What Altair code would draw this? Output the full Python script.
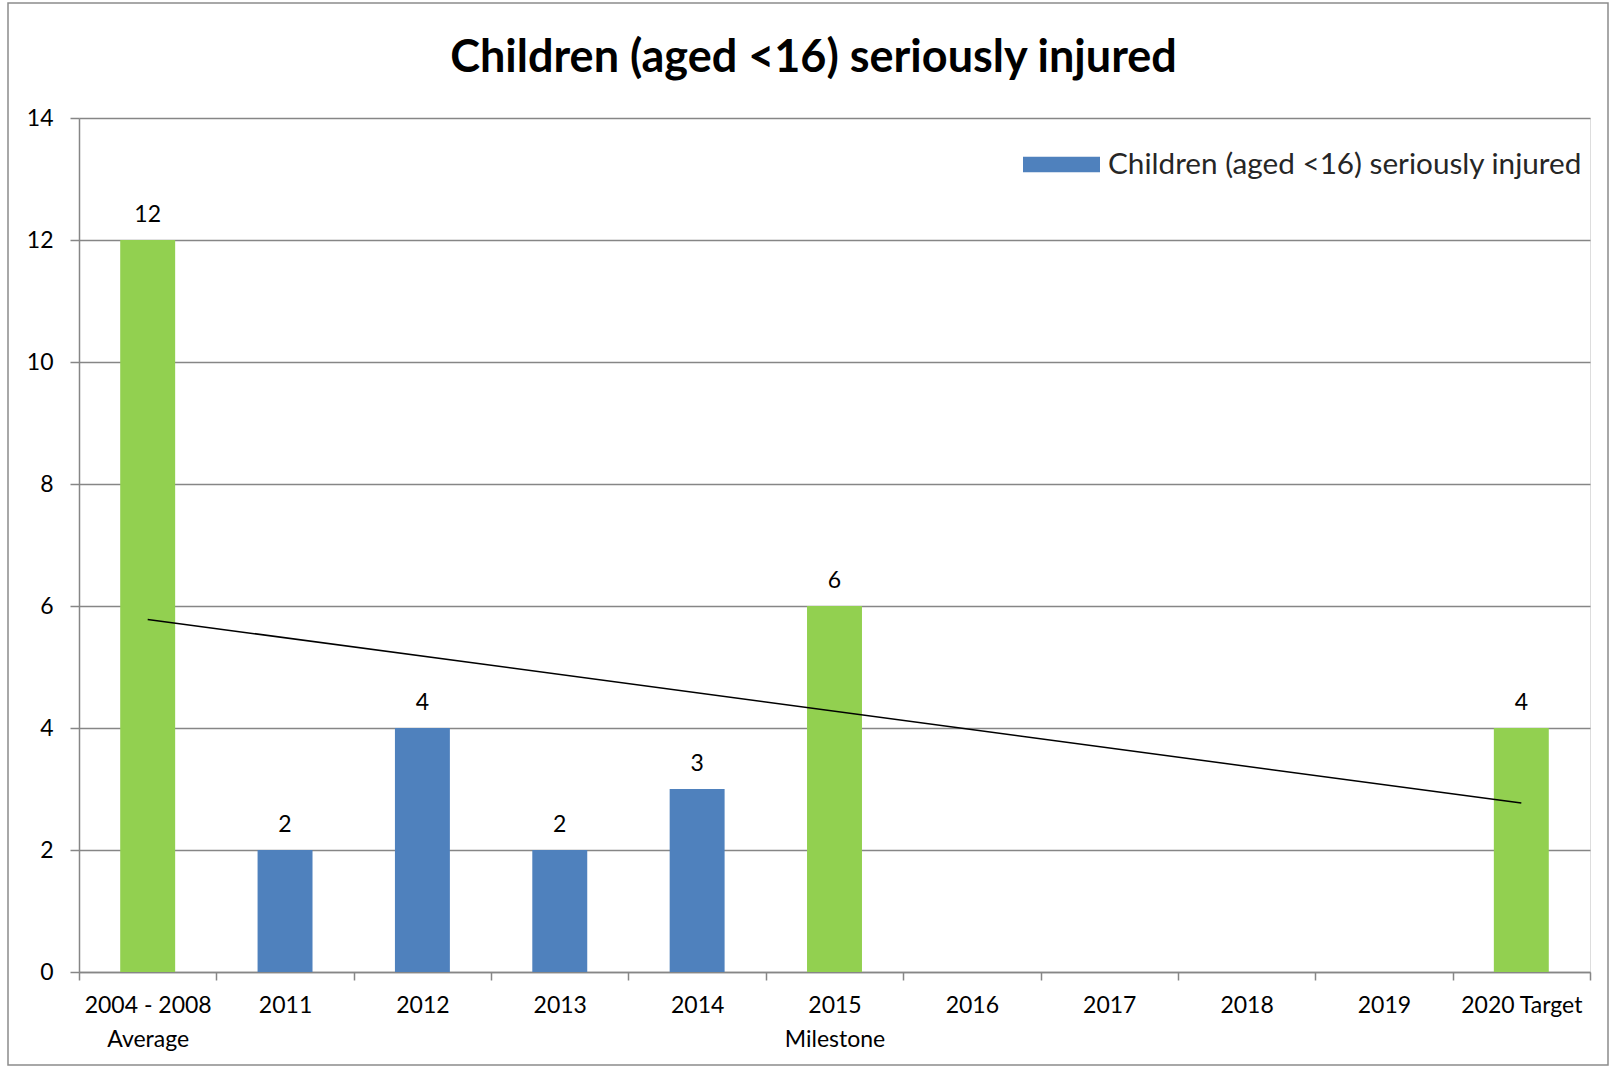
import altair as alt
import pandas as pd

# ---- data ----
categories = ["2004 - 2008|Average", "2011", "2012", "2013", "2014", "2015|Milestone",
              "2016", "2017", "2018", "2019", "2020 Target"]
values = [12, 2, 4, 2, 3, 6, None, None, None, None, 4]
kinds = ["Target", "Actual", "Actual", "Actual", "Actual", "Target",
         None, None, None, None, "Target"]
series_name = "Children (aged <16) seriously injured"
trend_values = [5.78, 2.77]   # linear trend at first and last category
y_ticks = [0, 2, 4, 6, 8, 10, 12, 14]

BLUE = "#4F81BD"
GREEN = "#92D050"
GRAY = "#868686"
FONT = "Lato"

rows = []
for c, v, k in zip(categories, values, kinds):
    if v is not None:
        rows.append({"cat": c, "val": v,
                     "series": series_name if k == "Actual" else "Target"})
bars_df = pd.DataFrame(rows)
trend_df = pd.DataFrame({"cat": [categories[0], categories[-1]], "val": trend_values})

W, H = 1511, 854

x_enc = alt.X("cat:N", sort=categories,
              scale=alt.Scale(domain=categories, paddingInner=0, paddingOuter=0),
              axis=alt.Axis(title=None, labelAngle=0, tickBand="extent",
                            labelExpr="split(datum.label, '|')",
                            labelFont=FONT, labelFontSize=23, labelColor="#000000",
                            labelLineHeight=34, labelPadding=14,
                            domainColor=GRAY, domainWidth=1.5,
                            tickColor=GRAY, tickWidth=1.5, tickSize=8, grid=False))
y_enc = alt.Y("val:Q", scale=alt.Scale(domain=[0, 14], nice=False),
              axis=alt.Axis(title=None, values=y_ticks, format="d",
                            labelFont=FONT, labelFontSize=23, labelColor="#000000",
                            labelPadding=17, tickSize=9, tickColor=GRAY, tickWidth=1.5,
                            domainColor=GRAY, domainWidth=1.5,
                            grid=True, gridColor=GRAY, gridWidth=1.5))

border = alt.Chart(pd.DataFrame({"a": [0]})).mark_rect(
    fill=None, stroke="#8C8C8C", strokeWidth=1.5
).encode(x=alt.value(-71), x2=alt.value(1529), y=alt.value(-115), y2=alt.value(947))

bars = alt.Chart(bars_df).mark_bar(width=alt.RelativeBandSize(0.4)).encode(
    x=x_enc, y=y_enc,
    color=alt.Color("series:N",
                    scale=alt.Scale(domain=[series_name, "Target"], range=[BLUE, GREEN]),
                    legend=alt.Legend(title=None, values=[series_name], orient="none",
                                      legendX=944, legendY=8,
                                      symbolType="M-1,-0.2H1V0.2H-1Z",
                                      symbolSize=5929, symbolStrokeWidth=0,
                                      symbolOpacity=1,
                                      labelFont=FONT, labelFontSize=29.7,
                                      labelColor="#262626", labelOffset=8,
                                      labelLimit=700))
)

labels = alt.Chart(bars_df).mark_text(
    font=FONT, fontSize=23, color="#000000", baseline="alphabetic", dy=-18
).encode(x=alt.X("cat:N", sort=categories), y="val:Q", text="val:Q")

trend = alt.Chart(trend_df).mark_line(color="#000000", strokeWidth=1.5).encode(
    x=alt.X("cat:N", sort=categories), y="val:Q")

chart = alt.layer(border, bars, labels, trend).properties(
    width=W, height=H,
    title=alt.TitleParams("Children (aged <16) seriously injured", font=FONT,
                          fontSize=45, fontWeight="bold", color="#000000",
                          anchor="middle", frame="group", dx=-21, offset=-79),
    autosize=alt.AutoSizeParams(type="none"),
    padding={"left": 79, "top": 118, "right": 20, "bottom": 95},
).configure_view(stroke=None).configure(background="white")

chart.save("out.html", embed_options={"renderer": "svg", "actions": False})
